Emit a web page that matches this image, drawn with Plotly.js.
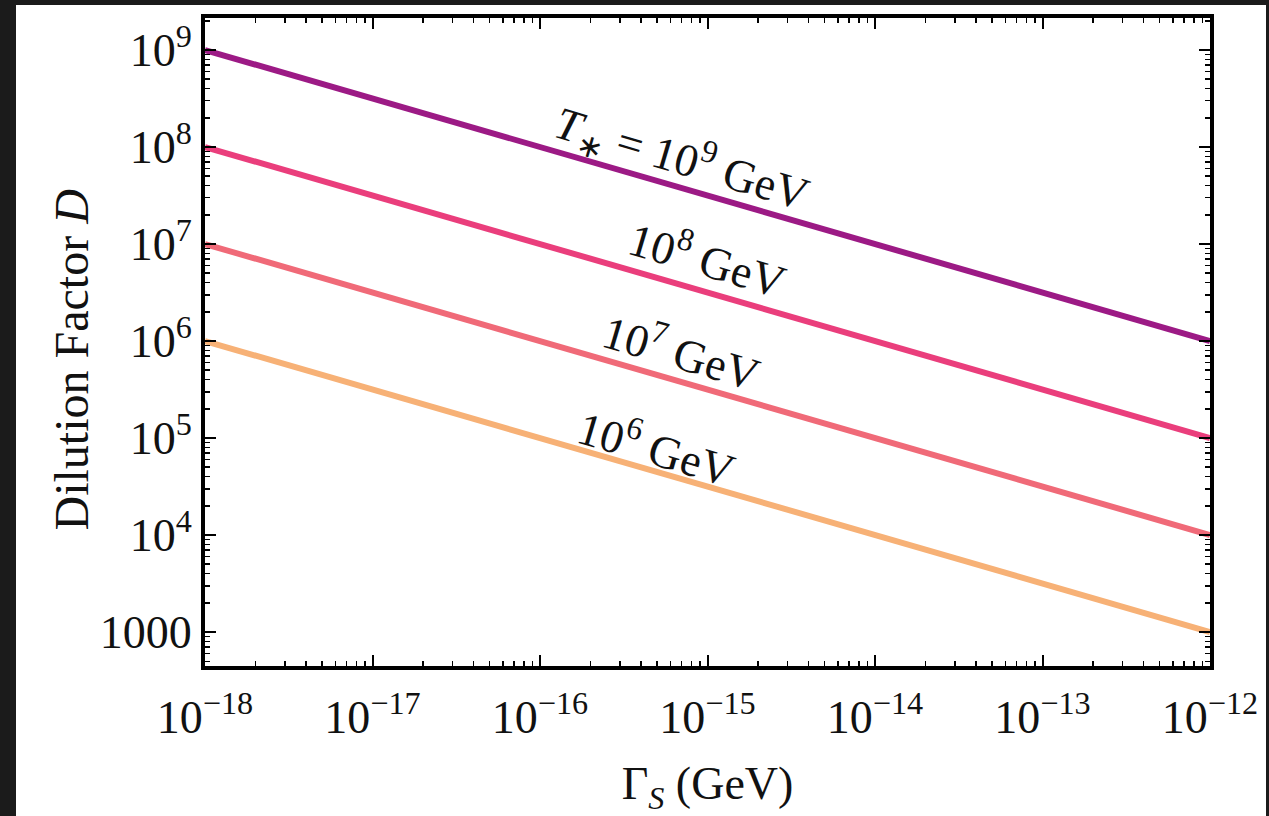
<!DOCTYPE html>
<html>
<head>
<meta charset="utf-8">
<script src="https://cdn.plot.ly/plotly-3.0.1.min.js"></script>
<style>
html,body{margin:0;padding:0;background:#1b1b1b;width:1269px;height:816px;overflow:hidden;}
#chart{position:absolute;left:16px;top:5px;width:1250px;height:811px;background:#fff;}
</style>
</head>
<body>
<div id="chart"></div>
<script>
// Data
const gammaS = [1e-18, 1e-17, 1e-16, 1e-15, 1e-14, 1e-13, 1e-12];
const D_T9 = [1e9, 3.16e8, 1e8, 3.16e7, 1e7, 3.16e6, 1e6];
const D_T8 = [1e8, 3.16e7, 1e7, 3.16e6, 1e6, 3.16e5, 1e5];
const D_T7 = [1e7, 3.16e6, 1e6, 3.16e5, 1e5, 3.16e4, 1e4];
const D_T6 = [1e6, 3.16e5, 1e5, 3.16e4, 1e4, 3.16e3, 1e3];
const seriesNames = ["T* = 1e9 GeV", "1e8 GeV", "1e7 GeV", "1e6 GeV"];
const labelTexts = ["<i>T</i><sub>∗</sub> = 10<sup>9</sup> GeV", "10<sup>8</sup> GeV", "10<sup>7</sup> GeV", "10<sup>6</sup> GeV"];
const xTickVals = [1e-18, 1e-17, 1e-16, 1e-15, 1e-14, 1e-13, 1e-12];
const xTickText = ["10<sup>−18</sup>", "10<sup>−17</sup>", "10<sup>−16</sup>", "10<sup>−15</sup>", "10<sup>−14</sup>", "10<sup>−13</sup>", "10<sup>−12</sup>"];
const yTickVals = [1e3, 1e4, 1e5, 1e6, 1e7, 1e8, 1e9];
const yTickText = ["1000", "10<sup>4</sup>", "10<sup>5</sup>", "10<sup>6</sup>", "10<sup>7</sup>", "10<sup>8</sup>", "10<sup>9</sup>"];
const xTitle = "Γ<sub><i>S</i></sub> (GeV)";
const yTitle = "Dilution Factor <i>D</i>";

const colors = ["#9c1a85", "#ea3e7c", "#f06a78", "#f7b176"];
const allD = [D_T9, D_T8, D_T7, D_T6];
const FAM = "'Liberation Serif', 'Times New Roman', serif";

function minorTicks(lo, hi) {
  const out = [];
  for (let e = lo; e < hi; e++) {
    for (let m = 2; m <= 9; m++) out.push(m * Math.pow(10, e));
  }
  return out;
}

const traces = allD.map((d, i) => ({
  x: gammaS, y: d, type: 'scatter', mode: 'lines', name: seriesNames[i],
  line: {color: colors[i], width: 6}, showlegend: false, hoverinfo: 'skip'
}));

const annX = [-15.15, -15.0, -15.15, -15.3];
const annY = [7.88, 6.87, 5.91, 4.92];
const annotations = labelTexts.map((t, i) => ({
  x: annX[i], y: annY[i], xref: 'x', yref: 'y', text: t, showarrow: false,
  textangle: 16.5, font: {family: FAM, size: 46, color: '#111'}
}));
annotations.push({
  x: 0, y: 0, xref: 'paper', yref: 'paper', text: yTitle, showarrow: false,
  textangle: -90, font: {family: FAM, size: 48, color: '#111'}
});

const layout = {
  width: 1250, height: 811,
  margin: {l: 189, r: 56, t: 13, b: 150},
  paper_bgcolor: '#ffffff', plot_bgcolor: '#ffffff',
  font: {family: FAM, size: 44, color: '#111'},
  xaxis: {
    type: 'log', range: [-18, -12], tickmode: 'array', tickvals: xTickVals, ticktext: xTickText,
    ticks: 'inside', ticklen: 11, tickwidth: 2, tickcolor: '#000', ticklabelstandoff: 8,
    showline: true, linewidth: 4, linecolor: '#000', mirror: 'allticks', showgrid: false, zeroline: false,
    minor: {tickmode: 'array', tickvals: minorTicks(-18, -12), ticks: 'inside', ticklen: 5, tickwidth: 1.5, tickcolor: '#000', showgrid: false},
    tickfont: {family: FAM, size: 46, color: '#111'},
    title: {text: xTitle, font: {family: FAM, size: 46, color: '#111'}, standoff: 28}
  },
  yaxis: {
    type: 'log', range: [2.65, 9.33], tickmode: 'array', tickvals: yTickVals, ticktext: yTickText,
    ticks: 'inside', ticklen: 11, tickwidth: 2, tickcolor: '#000',
    showline: true, linewidth: 4, linecolor: '#000', mirror: 'allticks', showgrid: false, zeroline: false,
    minor: {tickmode: 'array', tickvals: minorTicks(2, 9).filter(v => v > Math.pow(10, 2.65)).concat([2e9]), ticks: 'inside', ticklen: 5, tickwidth: 1.5, tickcolor: '#000', showgrid: false},
    tickfont: {family: FAM, size: 46, color: '#111'},
    title: {text: ''}
  },
  annotations: annotations
};

// y title placement (page pixels -> paper coords)
layout.annotations[4].x = (42 - 16 - 189) / (1250 - 189 - 56);
layout.annotations[4].y = 1 - (360 - 5 - 13) / (811 - 13 - 150);

Plotly.newPlot('chart', traces, layout, {displayModeBar: false, staticPlot: true});
</script>
</body>
</html>
